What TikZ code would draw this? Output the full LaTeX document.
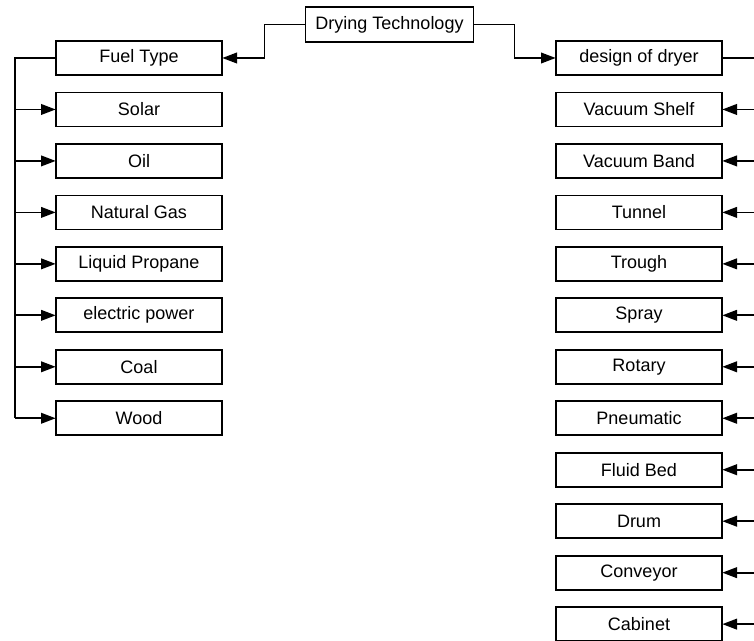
\documentclass[tikz,border=0pt]{standalone}
\usepackage{fontspec}
\setmainfont{Liberation Sans}
\usetikzlibrary{arrows.meta, positioning}

\begin{document}
\begin{tikzpicture}[
  x=0.75pt, y=-0.75pt,
  node distance=13.1pt,
  item/.style={rectangle, draw=black, line width=1.3pt, minimum width=125pt,
    minimum height=25.5pt, outer sep=0pt, inner sep=2pt,
    font=\fontsize{13.5}{16}\selectfont},
  root/.style={rectangle, draw=black, line width=1.3pt, minimum height=26pt,
    outer sep=0pt, inner xsep=7.5pt, font=\fontsize{13.5}{16}\selectfont},
  link/.style={line width=1.3pt, black},
  arr/.style={-{Triangle[length=11pt, width=8pt]}, line width=1.3pt, black}
]
\useasboundingbox (0,0) rectangle (754,641);

\node[root] (tech) at (389.5,24.5) {Drying Technology};

% fuel side
\node[item] (fuel) at (139,58) {Fuel Type};
\node[item, below=of fuel] (solar) {Solar};
\node[item, below=of solar] (oil) {Oil};
\node[item, below=of oil] (gas) {Natural Gas};
\node[item, below=of gas] (propane) {Liquid Propane};
\node[item, below=of propane] (power) {electric power};
\node[item, below=of power] (coal) {Coal};
\node[item, below=of coal] (wood) {Wood};

% dryer side
\node[item] (dryer) at (639,58) {design of dryer};
\node[item, below=of dryer] (shelf) {Vacuum Shelf};
\node[item, below=of shelf] (band) {Vacuum Band};
\node[item, below=of band] (tunnel) {Tunnel};
\node[item, below=of tunnel] (trough) {Trough};
\node[item, below=of trough] (spray) {Spray};
\node[item, below=of spray] (rotary) {Rotary};
\node[item, below=of rotary] (pneum) {Pneumatic};
\node[item, below=of pneum] (fluid) {Fluid Bed};
\node[item, below=of fluid] (drum) {Drum};
\node[item, below=of drum] (conveyor) {Conveyor};
\node[item, below=of conveyor] (cabinet) {Cabinet};

\draw[arr] (tech.west) -- ++(-41,0) |- (fuel.east);
\draw[arr] (tech.east) -- ++(41,0) |- (dryer.west);

\draw[link] (fuel.west) -- ++(-41,0) coordinate (ltrunk) -- (ltrunk |- wood.west);
\foreach \n in {solar, oil, gas, propane, power, coal, wood}
  \draw[arr] (ltrunk |- \n.west) -- (\n.west);

\draw[link] (dryer.east) -- ++(41,0) coordinate (rtrunk) -- (rtrunk |- cabinet.east);
\foreach \n in {shelf, band, tunnel, trough, spray, rotary, pneum, fluid, drum, conveyor, cabinet}
  \draw[arr] (rtrunk |- \n.east) -- (\n.east);

\end{tikzpicture}
\end{document}
